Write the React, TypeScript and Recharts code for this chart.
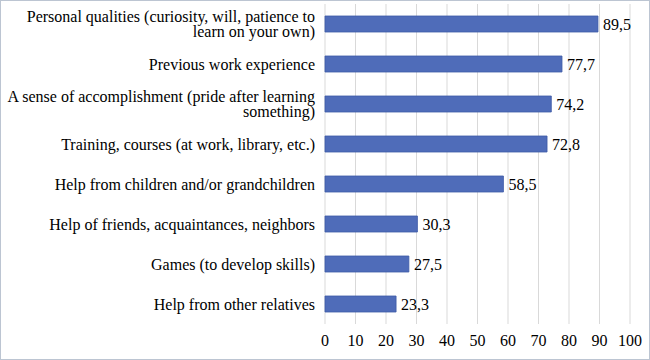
import { BarChart, Bar, XAxis, YAxis, CartesianGrid, LabelList } from "recharts";

const categories = [
  "Personal qualities (curiosity, will, patience to|learn on your own)",
  "Previous work experience",
  "A sense of accomplishment (pride after learning|something)",
  "Training, courses (at work, library, etc.)",
  "Help from children and/or grandchildren",
  "Help of friends, acquaintances, neighbors",
  "Games (to develop skills)",
  "Help from other relatives",
];
const values = [89.5, 77.7, 74.2, 72.8, 58.5, 30.3, 27.5, 23.3];
const xTicks = [0, 10, 20, 30, 40, 50, 60, 70, 80, 90, 100];

const data = categories.map((name, i) => ({ name, value: values[i] }));

const FONT = "'Times New Roman', 'Liberation Serif', 'DejaVu Serif', serif";
const FS = 16;

const CategoryTick = ({ x, y, payload }: any) => {
  const lines = String(payload.value).split("|");
  const lh = 15.5;
  const start = -((lines.length - 1) * lh) / 2;
  return (
    <text x={x} y={y} textAnchor="end" fill="#000" fontSize={FS}>
      {lines.map((l, i) => (
        <tspan key={i} x={x} y={y + start + i * lh} dy="0.35em">
          {l}
        </tspan>
      ))}
    </text>
  );
};

export default function App() {
  return (
    <div style={{ position: "relative", width: 650, height: 360, background: "#fff" }}>
      <style>{`body{margin:0} .chart-serif text{font-family:${FONT} !important}`}</style>
      <BarChart
        className="chart-serif"
        width={650}
        height={360}
        data={data}
        layout="vertical"
        margin={{ top: 4, right: 20, bottom: 6, left: 0 }}
      >
        <CartesianGrid horizontal={false} stroke="#d9d9d9" />
        <XAxis
          type="number"
          domain={[0, 100]}
          ticks={xTicks}
          axisLine={false}
          tickLine={false}
          tickMargin={5}
          height={30}
          interval={0}
          tick={{ fill: "#000", fontSize: FS }}
        />
        <YAxis
          type="category"
          dataKey="name"
          width={325}
          axisLine={false}
          tickLine={false}
          tickMargin={4}
          interval={0}
          tick={<CategoryTick />}
        />
        <Bar dataKey="value" fill="#4f6cb9" stroke="#3e5aa6" strokeWidth={0.8} barSize={16} isAnimationActive={false}>
          <LabelList
            dataKey="value"
            position="right"
            offset={5}
            fill="#000"
            fontSize={FS}
            formatter={(v: any) => String(v).replace(".", ",")}
          />
        </Bar>
      </BarChart>
      <div
        style={{
          position: "absolute",
          inset: 0,
          border: "1px solid #bcc5d2",
          pointerEvents: "none",
        }}
      />
    </div>
  );
}
